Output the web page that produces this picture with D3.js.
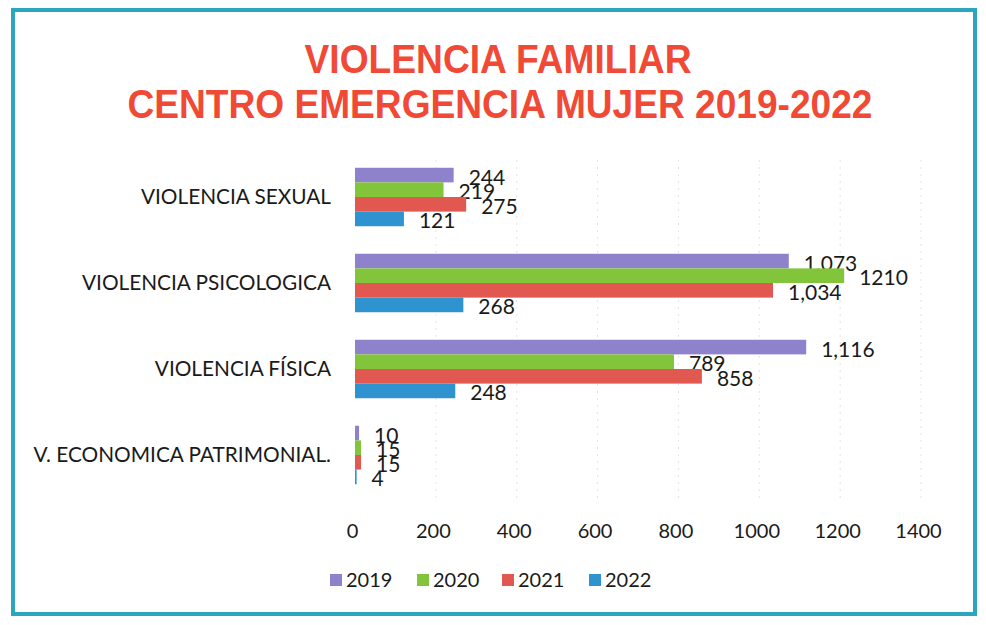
<!DOCTYPE html>
<html>
<head>
<meta charset="utf-8">
<script src="https://cdn.jsdelivr.net/npm/d3@7.9.0/dist/d3.min.js"></script>
<style>
  body { margin: 0; background: #fff; }
  svg text { font-family: 'Lato', 'Open Sans', sans-serif; fill: #1a1a1a; }
  .title { font-family: 'Liberation Sans Narrow', 'Liberation Sans', Arial, sans-serif; font-weight: bold; fill: #f04a37; }
</style>
</head>
<body>
<svg id="chart" width="986" height="625"></svg>
<script>
const categories = ['VIOLENCIA SEXUAL', 'VIOLENCIA PSICOLOGICA', 'VIOLENCIA FÍSICA', 'V. ECONOMICA PATRIMONIAL.'];
const years = ['2019', '2020', '2021', '2022'];
const v2019 = [244, 1073, 1116, 10];
const v2020 = [219, 1210, 789, 15];
const v2021 = [275, 1034, 858, 15];
const v2022 = [121, 268, 248, 4];
const labels2019 = ['244', '1,073', '1,116', '10'];
const labels2020 = ['219', '1210', '789', '15'];
const labels2021 = ['275', '1,034', '858', '15'];
const labels2022 = ['121', '268', '248', '4'];
const xTicks = [0, 200, 400, 600, 800, 1000, 1200, 1400];

const series = [
  { year: years[0], values: v2019, labels: labels2019 },
  { year: years[1], values: v2020, labels: labels2020 },
  { year: years[2], values: v2021, labels: labels2021 },
  { year: years[3], values: v2022, labels: labels2022 },
];

const colors = d3.scaleOrdinal().domain(years).range(['#8f82cc', '#82c43a', '#e0584f', '#2e93cf']);

const svg = d3.select('#chart');

// teal frame
svg.append('rect')
  .attr('x', 13).attr('y', 10).attr('width', 962).attr('height', 604)
  .attr('fill', 'none').attr('stroke', '#2ba6c0').attr('stroke-width', 4);

// title (condensed look via textLength)
svg.append('text').attr('class', 'title')
  .attr('x', 498).attr('y', 73).attr('text-anchor', 'middle')
  .attr('textLength', 387).attr('lengthAdjust', 'spacingAndGlyphs')
  .style('font-size', '40px').text('VIOLENCIA FAMILIAR');
svg.append('text').attr('class', 'title')
  .attr('x', 500).attr('y', 118).attr('text-anchor', 'middle')
  .attr('textLength', 745).attr('lengthAdjust', 'spacingAndGlyphs')
  .style('font-size', '40px').text('CENTRO EMERGENCIA MUJER 2019-2022');

const x = d3.scaleLinear().domain([0, 1400]).range([355, 921]);
const y = d3.scaleBand().domain(categories).range([154, 498]).paddingInner(0.32).paddingOuter(0.16);
const ySub = d3.scaleBand().domain(years).range([0, y.bandwidth()]);

// faint dashed gridlines
svg.append('g')
  .selectAll('line')
  .data(xTicks.slice(1))
  .join('line')
  .attr('x1', (d) => x(d)).attr('x2', (d) => x(d))
  .attr('y1', 160).attr('y2', 500)
  .attr('stroke', '#e2e2e2').attr('stroke-width', 1).attr('stroke-dasharray', '2,5');

// x axis labels
const xAxis = d3.axisBottom(x).tickValues(xTicks).tickSize(0).tickPadding(0).tickFormat(d3.format('d'));
const gx = svg.append('g').attr('transform', 'translate(-3,524)').call(xAxis);
gx.select('.domain').remove();
gx.selectAll('text').style('font-size', '20px').attr('fill', '#1a1a1a')
  .style('font-family', "'Lato', 'Open Sans', sans-serif");

// category labels
const yAxis = d3.axisLeft(y).tickSize(0).tickPadding(0);
const gy = svg.append('g').attr('transform', 'translate(331,0)').call(yAxis);
gy.select('.domain').remove();
gy.selectAll('text').style('font-size', '20.8px').attr('fill', '#1a1a1a')
  .style('font-family', "'Lato', 'Open Sans', sans-serif");

// bars and value labels
series.forEach((s) => {
  const g = svg.append('g');
  g.selectAll('rect')
    .data(s.values)
    .join('rect')
    .attr('x', x(0))
    .attr('y', (d, i) => y(categories[i]) + ySub(s.year))
    .attr('width', (d) => x(d) - x(0))
    .attr('height', ySub.bandwidth())
    .attr('fill', colors(s.year));

  g.selectAll('text')
    .data(s.values)
    .join('text')
    .attr('x', (d) => x(d) + 15)
    .attr('y', (d, i) => y(categories[i]) + ySub(s.year) + ySub.bandwidth() / 2 + 2)
    .attr('dy', '0.36em')
    .style('font-size', '21px')
    .text((d, i) => s.labels[i]);
});

// legend
const legendX = [330, 417, 502, 589];
const legend = svg.append('g');
series.forEach((s, i) => {
  legend.append('rect')
    .attr('x', legendX[i]).attr('y', 574).attr('width', 12).attr('height', 12)
    .attr('fill', colors(s.year));
  legend.append('text')
    .attr('x', legendX[i] + 16).attr('y', 580).attr('dy', '0.36em')
    .style('font-size', '20px').text(s.year);
});
</script>
</body>
</html>
